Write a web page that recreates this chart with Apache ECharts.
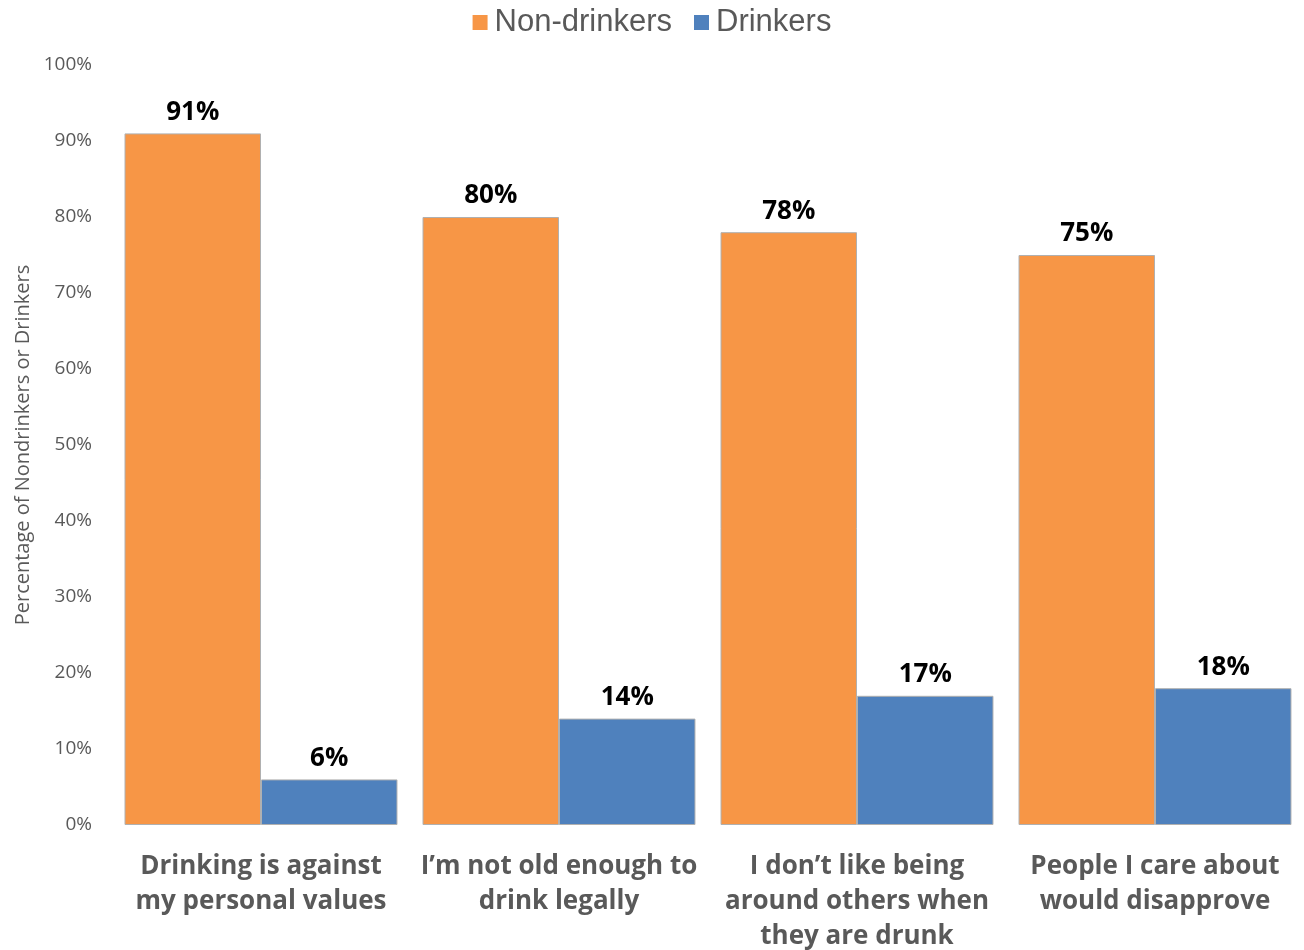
<!DOCTYPE html>
<html>
<head>
<meta charset="utf-8">
<script src="https://cdn.jsdelivr.net/npm/echarts@6/dist/echarts.min.js"></script>
<style>html,body{margin:0;padding:0;background:#fff;}#c{width:1304px;height:950px;}</style>
</head>
<body>
<div id="c"></div>
<script>
const categories = [
  "Drinking is against\nmy personal values",
  "I\u2019m not old enough to\ndrink legally",
  "I don\u2019t like being\naround others when\nthey are drunk",
  "People I care about\nwould disapprove"
];
const seriesNames = ["Non-drinkers", "Drinkers"];
const nonDrinkers = [91, 80, 78, 75];
const drinkers = [6, 14, 17, 18];
const yTicks = { min: 0, max: 100, interval: 10 };

const chart = echarts.init(document.getElementById('c'), null, { renderer: 'canvas' });
const labelStyle = {
  show: true, position: 'top', distance: 8,
  formatter: p => p.value + '%',
  fontFamily: 'Open Sans', fontWeight: 'bold', fontSize: 26, color: '#000'
};
chart.setOption({
  animation: false,
  color: ['#F79646', '#4F81BD'],
  legend: {
    top: 2, left: 'center',
    itemWidth: 15, itemHeight: 15, itemGap: 22,
    icon: 'rect',
    itemStyle: { borderWidth: 0 },
    textStyle: { fontFamily: 'Liberation Sans', fontSize: 31, color: '#595959', padding: [0, 0, 0, 2] },
    data: seriesNames
  },
  grid: { left: 112, right: 0, top: 65, bottom: 125, containLabel: false, outerBoundsMode: 'none' },
  xAxis: {
    type: 'category', data: categories,
    axisLine: { show: false }, axisTick: { show: false },
    axisLabel: {
      interval: 0, margin: 24, lineHeight: 35,
      fontFamily: 'Open Sans', fontWeight: 'bold', fontSize: 26, color: '#595959'
    }
  },
  yAxis: {
    type: 'value', min: yTicks.min, max: yTicks.max, interval: yTicks.interval,
    name: 'Percentage of Nondrinkers or Drinkers',
    nameLocation: 'middle', nameGap: 74, nameRotate: 90,
    nameTextStyle: { fontFamily: 'Open Sans', fontSize: 20, color: '#595959' },
    axisLine: { show: false }, axisTick: { show: false }, splitLine: { show: false },
    axisLabel: { formatter: '{value}%', margin: 20, fontFamily: 'Open Sans', fontSize: 19, color: '#595959' }
  },
  series: [
    { name: seriesNames[0], type: 'bar', data: nonDrinkers, barGap: '0%', barCategoryGap: '8.4%',
      itemStyle: { borderColor: '#b0b0b0', borderWidth: 1 }, label: labelStyle },
    { name: seriesNames[1], type: 'bar', data: drinkers, barGap: '0%', barCategoryGap: '8.4%',
      itemStyle: { borderColor: '#b0b0b0', borderWidth: 1 }, label: labelStyle }
  ]
});
</script>
</body>
</html>
